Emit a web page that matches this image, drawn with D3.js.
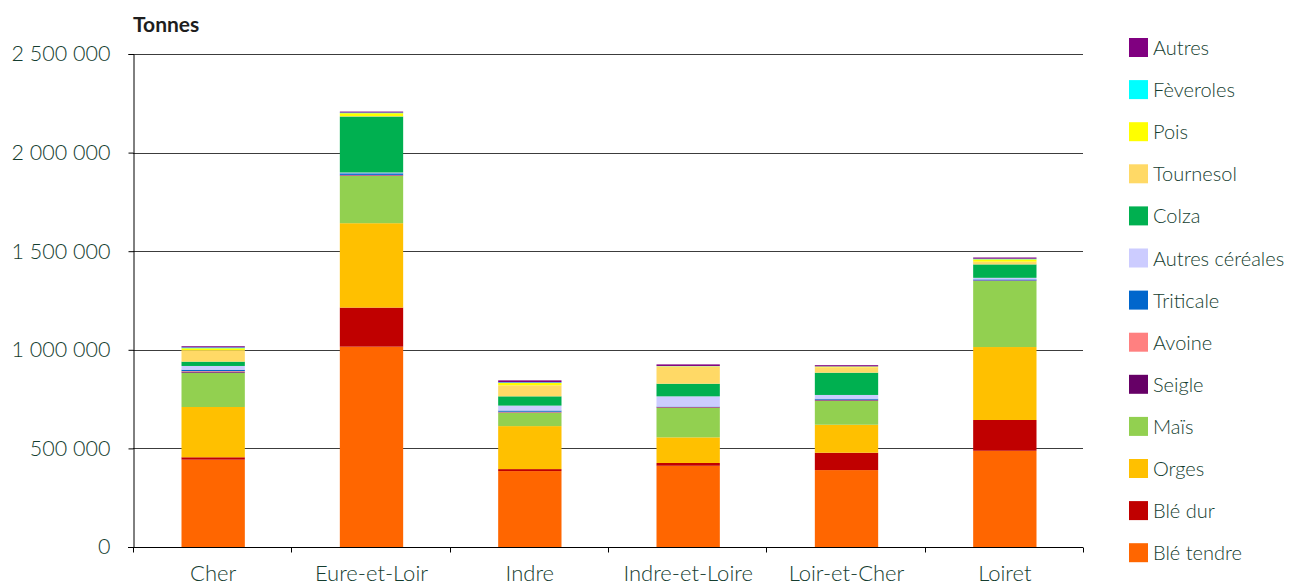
<!DOCTYPE html>
<html lang="fr">
<head>
<meta charset="UTF-8" />
<script src="https://cdnjs.cloudflare.com/ajax/libs/d3/7.8.5/d3.min.js"></script>
<style>
  body { margin: 0; background: #fff; }
  text { font-family: Lato, "Open Sans", sans-serif; }
</style>
</head>
<body>
<div class="chart"></div>
<script>
// départements
const departements = ['Cher', 'Eure-et-Loir', 'Indre', 'Indre-et-Loire', 'Loir-et-Cher', 'Loiret']

// production en tonnes, une liste par culture (ordre d'empilement, du bas vers le haut)
const bleTendre = [443000, 1016000, 385000, 412000, 390000, 488000]
const bleDur = [12000, 198000, 10000, 14000, 88000, 156000]
const orges = [255000, 428000, 218000, 130000, 142000, 370000]
const mais = [174000, 240000, 68000, 150000, 122000, 335000]
const seigle = [5000, 3000, 2000, 3000, 3000, 2000]
const avoine = [3000, 2000, 3000, 1000, 2000, 1000]
const triticale = [7000, 8000, 6000, 2000, 5000, 5000]
const autresCereales = [19000, 4000, 25000, 52000, 19000, 8000]
const colza = [22000, 284000, 47000, 64000, 113000, 68000]
const tournesol = [58000, 2000, 56000, 88000, 27000, 14000]
const pois = [10000, 15000, 12000, 1000, 4000, 12000]
const feveroles = [4000, 3000, 3000, 1000, 1000, 3000]
const autres = [6000, 5000, 10000, 8000, 6000, 6000]

const seriesNames = ['Blé tendre', 'Blé dur', 'Orges', 'Maïs', 'Seigle', 'Avoine', 'Triticale',
  'Autres céréales', 'Colza', 'Tournesol', 'Pois', 'Fèveroles', 'Autres']
const seriesValues = [bleTendre, bleDur, orges, mais, seigle, avoine, triticale,
  autresCereales, colza, tournesol, pois, feveroles, autres]
const seriesColors = ['#ff6600', '#c00000', '#ffc000', '#92d050', '#660066', '#ff8080', '#0066cc',
  '#ccccff', '#00b050', '#ffd966', '#ffff00', '#00ffff', '#800080']

const yTicks = [0, 500000, 1000000, 1500000, 2000000, 2500000]

const width = 1291
const height = 584
const plot = { left: 133, right: 1083, top: 54, bottom: 547 }
const textColor = '#143d2f'

const svg = d3.select('.chart').append('svg')
  .attr('width', width)
  .attr('height', height)

// table pour d3.stack
const table = departements.map((d, i) => {
  const row = { dep: d }
  seriesNames.forEach((s, j) => { row[s] = seriesValues[j][i] })
  return row
})
const stacked = d3.stack().keys(seriesNames)(table)

const x = d3.scaleBand()
  .domain(departements)
  .range([plot.left, plot.right])
  .paddingInner(0.6)
  .paddingOuter(0.3)

const y = d3.scaleLinear()
  .domain([0, 2500000])
  .range([plot.bottom, plot.top])

const fr = d3.formatLocale({ decimal: ',', thousands: '\u00a0', grouping: [3], currency: ['', ' €'] })
const fmt = fr.format(',d')

// grille
svg.append('g')
  .selectAll('line')
  .data(yTicks.slice(1))
  .join('line')
  .attr('x1', plot.left)
  .attr('x2', plot.right)
  .attr('y1', d => Math.round(y(d)) + 0.5)
  .attr('y2', d => Math.round(y(d)) + 0.5)
  .attr('stroke', '#3c3c3c')
  .attr('stroke-width', 1)

// barres
svg.append('g')
  .selectAll('g')
  .data(stacked)
  .join('g')
  .attr('fill', (d, i) => seriesColors[i])
  .selectAll('rect')
  .data(d => d)
  .join('rect')
  .attr('x', d => x(d.data.dep) + 1)
  .attr('width', x.bandwidth())
  .attr('y', d => y(d[1]))
  .attr('height', d => y(d[0]) - y(d[1]))

// axe y
const yAxis = svg.append('g')
  .attr('transform', `translate(${plot.left + 0.5},0)`)
  .call(d3.axisLeft(y).tickValues(yTicks).tickFormat(fmt).tickSize(5).tickPadding(18))
yAxis.select('.domain').attr('stroke', '#000')
yAxis.selectAll('.tick line').attr('stroke', '#000')
yAxis.selectAll('text')
  .attr('fill', textColor)
  .style('font-size', '21.5px')
  .style('font-weight', '300')
  .style('font-family', 'Lato, sans-serif')

// axe x
const xAxisG = svg.append('g')
  .attr('transform', `translate(0,${plot.bottom + 0.5})`)
xAxisG.append('line')
  .attr('x1', plot.left - 5)
  .attr('x2', plot.right)
  .attr('stroke', '#000')
const bounds = d3.range(departements.length + 1).map(i => plot.left + i * (plot.right - plot.left) / departements.length)
xAxisG.selectAll('.sep')
  .data(bounds)
  .join('line')
  .attr('class', 'sep')
  .attr('x1', d => Math.round(d) + 0.5)
  .attr('x2', d => Math.round(d) + 0.5)
  .attr('y1', 0)
  .attr('y2', 5)
  .attr('stroke', '#000')
xAxisG.selectAll('.lab')
  .data(departements)
  .join('text')
  .attr('class', 'lab')
  .attr('x', d => x(d) + x.bandwidth() / 2 + 1)
  .attr('y', 33)
  .attr('text-anchor', 'middle')
  .attr('fill', textColor)
  .style('font-size', '22px')
  .style('font-weight', '300')
  .text(d => d)

// titre de l'axe
svg.append('text')
  .attr('x', plot.left)
  .attr('y', 32)
  .attr('fill', '#1e1e1e')
  .style('font-size', '21px')
  .style('font-weight', 'bold')
  .text('Tonnes')

// légende (ordre inverse de l'empilement)
const legendItems = seriesNames.map((s, i) => ({ name: s, color: seriesColors[i] })).reverse()
const legend = svg.append('g')
  .attr('transform', 'translate(1129,38)')
const item = legend.selectAll('g')
  .data(legendItems)
  .join('g')
  .attr('transform', (d, i) => `translate(0,${i * 42.1})`)
item.append('rect')
  .attr('width', 19)
  .attr('height', 19)
  .attr('fill', d => d.color)
item.append('text')
  .attr('x', 24)
  .attr('y', 17)
  .attr('fill', textColor)
  .style('font-size', '20px')
  .style('font-weight', '300')
  .text(d => d.name)
</script>
</body>
</html>
